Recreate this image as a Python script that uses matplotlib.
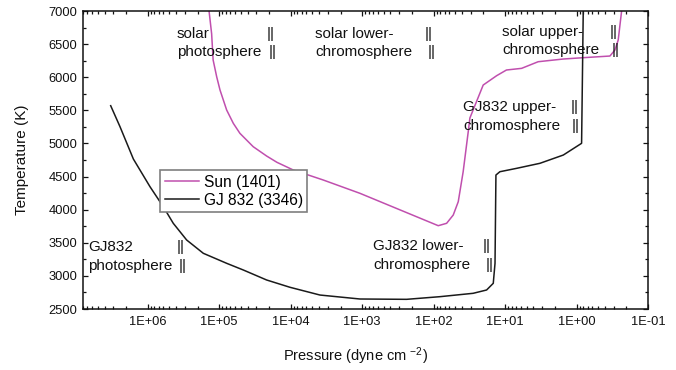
import numpy as np
import matplotlib
matplotlib.use("Agg")
import matplotlib.pyplot as plt
from matplotlib.ticker import FixedLocator, LogLocator, FuncFormatter, MultipleLocator, NullFormatter

# Temperature structure models (pressure in dyne cm^-2, temperature in K)
sun_pressure = [1.38e5, 1.27e5, 1.21e5, 1.08e5, 9.70e4, 7.83e4, 6.32e4, 5.11e4,
                3.33e4, 2.16e4, 1.55e4, 9.16e3, 3.49e3, 1.07e3, 85.9, 65.6,
                53.0, 45.1, 38.5, 32.7, 31.0, 20.2, 13.1, 9.55, 5.86, 3.44,
                1.53, 0.805, 0.341, 0.290, 0.261, 0.234]
sun_temperature = [7000, 6656, 6260, 6008, 5807, 5505, 5304, 5153,
                   4951, 4810, 4715, 4599, 4448, 4247, 3758, 3794,
                   3919, 4120, 4573, 5177, 5384, 5882, 6023, 6109, 6134, 6234,
                   6275, 6295, 6320, 6411, 6562, 7000]

gj_pressure = [3.28e6, 2.43e6, 1.58e6, 9.25e5, 6.03e5, 4.37e5, 2.84e5, 1.66e5,
               7.83e4, 4.58e4, 2.16e4, 1.02e4, 3.88e3, 1.07e3, 238, 81.5, 27.9,
               18.1, 14.6, 13.8, 13.4, 11.8, 6.89, 3.25, 1.53, 0.849, 0.805]
gj_temperature = [5570, 5253, 4765, 4347, 4045, 3794, 3542, 3341,
                  3190, 3089, 2938, 2828, 2711, 2651, 2646, 2686, 2737,
                  2787, 2888, 3190, 4523, 4573, 4624, 4700, 4825, 5002, 7000]

series_labels = ["Sun (1401)", "GJ 832 (3346)"]
pressure_ticks = [1e6, 1e5, 1e4, 1e3, 1e2, 1e1, 1e0, 1e-1]

# Region annotations: (left x px, top-line y px, second-line y px, first line, bar x top, second line, bar x bottom)
regions = [
    (177, 34, 52, "solar", 267, "photosphere", 269),
    (315, 34, 52, "solar lower-", 425, "chromosphere", 428),
    (502, 32, 50, "solar upper-", 610, "chromosphere", 612),
    (463, 107, 126, "GJ832 upper-", 571, "chromosphere", 572),
    (373, 246, 265, "GJ832 lower-", 483, "chromosphere", 486),
    (88, 247, 266, "GJ832", 177, "photosphere", 179),
]

plt.rcParams['font.family'] = ['Liberation Sans', 'DejaVu Sans']
plt.rcParams['mathtext.fontset'] = 'custom'
plt.rcParams['mathtext.rm'] = 'Liberation Sans'
plt.rcParams['mathtext.default'] = 'regular'

W, H = 676, 370
fig = plt.figure(figsize=(W / 100, H / 100), dpi=100)
ax = fig.add_axes([83 / W, 1 - 309 / H, 565 / W, 298 / H])

SUN_COLOR = "#c04fae"
ax.plot(sun_pressure, sun_temperature, color=SUN_COLOR, lw=1.1, label=series_labels[0])
ax.plot(gj_pressure, gj_temperature, color="#1a1a1a", lw=1.1, label=series_labels[1])

ax.set_xscale('log')
ax.set_xlim(8e6, 0.1)
ax.set_ylim(2500, 7000)

ax.xaxis.set_major_locator(FixedLocator(pressure_ticks))
ax.xaxis.set_minor_locator(LogLocator(base=10, subs=np.arange(2, 10), numticks=20))
ax.xaxis.set_major_formatter(FuncFormatter(lambda v, pos: f"1E{int(round(np.log10(v))):+03d}"))
ax.xaxis.set_minor_formatter(NullFormatter())
ax.yaxis.set_major_locator(MultipleLocator(500))
ax.yaxis.set_minor_locator(MultipleLocator(250))

ax.tick_params(which='both', direction='in', top=True, right=True, width=0.9,
               labelsize=9.3, colors='#111111')
ax.tick_params(which='major', length=3.8)
ax.tick_params(which='minor', length=2.2)
ax.tick_params(axis='x', pad=5)
ax.tick_params(axis='y', pad=4)
for sp in ax.spines.values():
    sp.set_linewidth(1.1)
    sp.set_color('#111111')

fig.text(22 / W, 1 - 160 / H, "Temperature (K)", rotation=90, ha='center', va='center',
         fontsize=11, color='#111111')
fig.text(355 / W, 1 - 356 / H, "Pressure (dyne cm $^{-2}$)", ha='center', va='center',
         fontsize=10.5, color='#111111')

for x0, y1, y2, t1, bx1, t2, bx2 in regions:
    for xx, yy, s in ((x0, y1, t1), (bx1, y1, "||"), (x0, y2, t2), (bx2, y2, "||")):
        fig.text(xx / W, 1 - yy / H, s, ha='left', va='center', fontsize=11, color='#111111')

leg = ax.legend(loc='upper left', bbox_to_anchor=(160 / W, 1 - 170 / H),
                bbox_transform=fig.transFigure, frameon=True, fancybox=False,
                edgecolor='#7f7f7f', fontsize=11.2, handlelength=2.2,
                handletextpad=0.3, borderpad=0.3, labelspacing=0.2, borderaxespad=0)
leg.get_frame().set_linewidth(1.2)
leg.get_frame().set_alpha(1)

fig.savefig("out.png", dpi=100)
